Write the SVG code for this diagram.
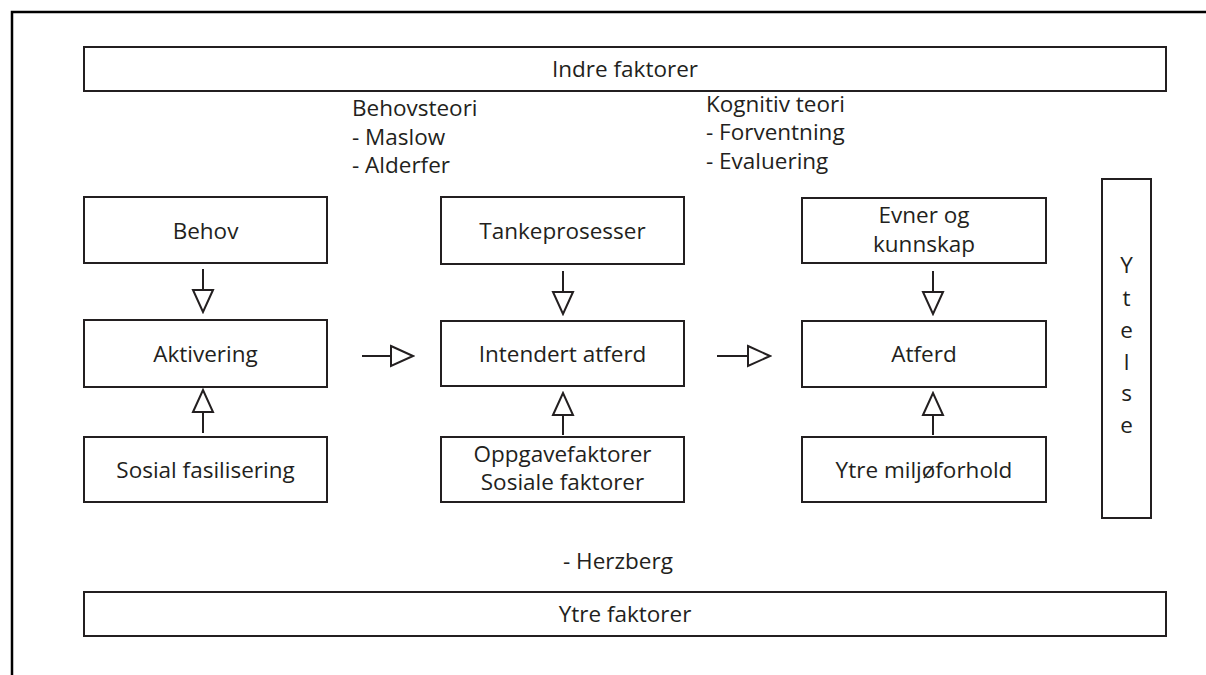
<svg xmlns="http://www.w3.org/2000/svg" width="1206" height="675" viewBox="0 0 1206 675">
<defs>
<style>
.box{fill:#fff;stroke:#231f20;stroke-width:2}
.t{font-family:"Open Sans","Liberation Sans",Arial,sans-serif;font-size:22.5px;fill:#231f20}
.c{text-anchor:middle}
.ln{stroke:#231f20;stroke-width:2;fill:none}
</style>
<marker id="arr" markerUnits="userSpaceOnUse" markerWidth="26" markerHeight="24" refX="22" refY="10" orient="auto" viewBox="-2 -2 26 24">
<path d="M0,0 L22,10 L0,20 Z" fill="#fff" stroke="#231f20" stroke-width="2"/>
</marker>
</defs>
<rect width="1206" height="675" fill="#fff"/>
<rect x="12" y="12" width="1200" height="670" fill="none" stroke="#000" stroke-width="2.5"/>

<g id="indre"><rect class="box" x="84" y="47" width="1082" height="44"/><text class="t c" x="625" y="77">Indre faktorer</text></g>
<g id="ytre"><rect class="box" x="84" y="592" width="1082" height="44"/><text class="t c" x="625" y="622">Ytre faktorer</text></g>

<g id="behovsteori"><text class="t" x="352" y="116">Behovsteori</text><text class="t" x="352" y="145">- Maslow</text><text class="t" x="352" y="173">- Alderfer</text></g>
<g id="kognitiv"><text class="t" x="706" y="112">Kognitiv teori</text><text class="t" x="706" y="140">- Forventning</text><text class="t" x="706" y="169">- Evaluering</text></g>
<g id="herzberg"><text class="t" x="563" y="569">- Herzberg</text></g>

<g id="behov"><rect class="box" x="84" y="197" width="243" height="66"/><text class="t c" x="205.5" y="238.5">Behov</text></g>
<g id="aktivering"><rect class="box" x="84" y="320" width="243" height="67"/><text class="t c" x="205.5" y="362">Aktivering</text></g>
<g id="sosial"><rect class="box" x="84" y="437" width="243" height="65"/><text class="t c" x="205.5" y="478">Sosial fasilisering</text></g>

<g id="tanke"><rect class="box" x="441" y="197" width="243" height="67"/><text class="t c" x="562.5" y="239">Tankeprosesser</text></g>
<g id="intendert"><rect class="box" x="441" y="321" width="243" height="65"/><text class="t c" x="562.5" y="362">Intendert atferd</text></g>
<g id="oppgave"><rect class="box" x="441" y="437" width="243" height="65"/><text class="t c" x="562.5" y="462">Oppgavefaktorer</text><text class="t c" x="562.5" y="490">Sosiale faktorer</text></g>

<g id="evner"><rect class="box" x="802" y="198" width="244" height="65"/><text class="t c" x="924" y="222.5">Evner og</text><text class="t c" x="924" y="251.5">kunnskap</text></g>
<g id="atferd"><rect class="box" x="802" y="321" width="244" height="66"/><text class="t c" x="924" y="362">Atferd</text></g>
<g id="miljo"><rect class="box" x="802" y="437" width="244" height="65"/><text class="t c" x="924" y="478">Ytre miljøforhold</text></g>

<g id="ytelse"><rect class="box" x="1102" y="179" width="49" height="339"/>
<text class="t c" x="1126.5" y="273">Y</text><text class="t c" x="1126.5" y="305.5">t</text><text class="t c" x="1126.5" y="338">e</text><text class="t c" x="1126.5" y="370">l</text><text class="t c" x="1126.5" y="401">s</text><text class="t c" x="1126.5" y="433">e</text></g>

<g id="connectors">
<line class="ln" x1="203" y1="269" x2="203" y2="312" marker-end="url(#arr)"/>
<line class="ln" x1="203" y1="433" x2="203" y2="390" marker-end="url(#arr)"/>
<line class="ln" x1="563" y1="271" x2="563" y2="314" marker-end="url(#arr)"/>
<line class="ln" x1="563" y1="435" x2="563" y2="393" marker-end="url(#arr)"/>
<line class="ln" x1="933" y1="271" x2="933" y2="314" marker-end="url(#arr)"/>
<line class="ln" x1="933" y1="435" x2="933" y2="393" marker-end="url(#arr)"/>
<line class="ln" x1="362" y1="356" x2="413" y2="356" marker-end="url(#arr)"/>
<line class="ln" x1="717" y1="356" x2="770" y2="356" marker-end="url(#arr)"/>
</g>
</svg>
